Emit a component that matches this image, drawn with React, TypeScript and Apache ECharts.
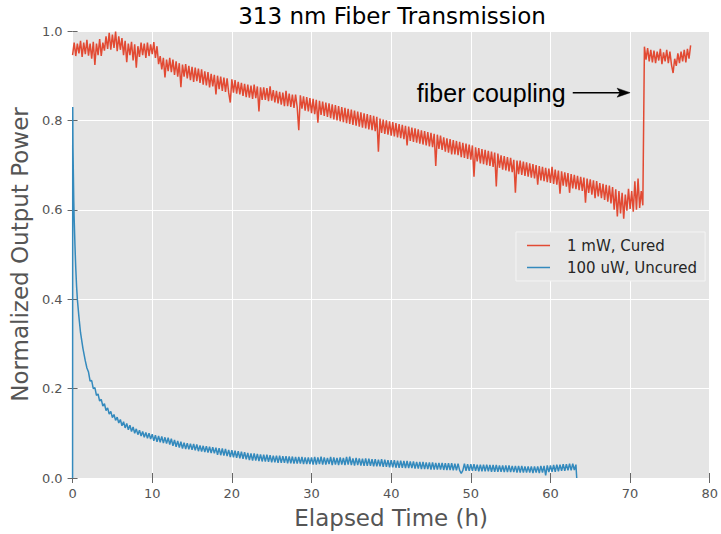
import React, { useEffect, useRef } from "react";
import * as echarts from "echarts";

// ---- Data ----
const titleText = "313 nm Fiber Transmission";
const xAxisTitle = "Elapsed Time (h)";
const yAxisTitle = "Normalized Output Power";
const seriesNames = ["1 mW, Cured", "100 uW, Uncured"];
const seriesColors = ["#E24A33", "#348ABD"];

const xMin = 0;
const xMax = 80;
const xInterval = 10;
const yMin = 0;
const yMax = 1;
const yInterval = 0.2;

// Red series (1 mW, Cured): samples every 0.2 h starting at 0 h
const redStartH = 0;
const redStepH = 0.2;
const redValues = [
  0.946, 0.974, 0.944, 0.972, 0.950, 0.978, 0.942, 0.974, 0.948, 0.980, 0.945, 0.972, 0.938, 0.976, 0.924, 0.972, 0.946, 0.982, 0.944, 0.974,
  0.956, 0.988, 0.960, 0.996, 0.958, 0.992, 0.962, 0.999, 0.955, 0.988, 0.958, 0.984, 0.946, 0.978, 0.930, 0.972, 0.946, 0.976, 0.934, 0.970,
  0.918, 0.966, 0.942, 0.974, 0.946, 0.972, 0.940, 0.974, 0.944, 0.970, 0.948, 0.975, 0.940, 0.966, 0.926, 0.944, 0.914, 0.940, 0.896, 0.936,
  0.910, 0.940, 0.908, 0.936, 0.902, 0.932, 0.898, 0.928, 0.874, 0.925, 0.898, 0.926, 0.894, 0.922, 0.890, 0.920, 0.886, 0.918, 0.888, 0.916,
  0.884, 0.914, 0.880, 0.910, 0.878, 0.908, 0.874, 0.904, 0.876, 0.902, 0.858, 0.900, 0.870, 0.898, 0.866, 0.896, 0.864, 0.894, 0.862, 0.840,
  0.892, 0.862, 0.890, 0.860, 0.886, 0.858, 0.884, 0.855, 0.882, 0.852, 0.880, 0.851, 0.878, 0.848, 0.880, 0.850, 0.876, 0.820, 0.874, 0.846,
  0.874, 0.846, 0.872, 0.843, 0.876, 0.844, 0.868, 0.840, 0.866, 0.838, 0.864, 0.835, 0.862, 0.832, 0.866, 0.832, 0.860, 0.830, 0.858, 0.828,
  0.858, 0.830, 0.778, 0.856, 0.826, 0.854, 0.822, 0.852, 0.820, 0.850, 0.816, 0.848, 0.814, 0.846, 0.795, 0.844, 0.812, 0.842, 0.810, 0.840,
  0.808, 0.838, 0.805, 0.836, 0.802, 0.834, 0.800, 0.832, 0.798, 0.830, 0.796, 0.828, 0.794, 0.826, 0.792, 0.824, 0.790, 0.822, 0.788, 0.820,
  0.786, 0.818, 0.784, 0.816, 0.782, 0.814, 0.780, 0.812, 0.778, 0.810, 0.776, 0.808, 0.730, 0.804, 0.772, 0.802, 0.770, 0.800, 0.768, 0.798,
  0.766, 0.796, 0.764, 0.794, 0.762, 0.792, 0.760, 0.790, 0.758, 0.788, 0.744, 0.786, 0.754, 0.784, 0.752, 0.782, 0.750, 0.780, 0.748, 0.778,
  0.746, 0.776, 0.744, 0.774, 0.742, 0.772, 0.740, 0.770, 0.698, 0.768, 0.736, 0.766, 0.734, 0.762, 0.730, 0.760, 0.728, 0.758, 0.724, 0.756,
  0.724, 0.754, 0.722, 0.752, 0.718, 0.750, 0.716, 0.748, 0.714, 0.746, 0.712, 0.744, 0.674, 0.740, 0.708, 0.738, 0.704, 0.736, 0.702, 0.734,
  0.700, 0.732, 0.698, 0.730, 0.696, 0.728, 0.652, 0.726, 0.694, 0.722, 0.690, 0.720, 0.688, 0.718, 0.686, 0.716, 0.684, 0.712, 0.638, 0.710,
  0.680, 0.710, 0.678, 0.708, 0.676, 0.706, 0.674, 0.704, 0.672, 0.702, 0.670, 0.700, 0.656, 0.698, 0.666, 0.696, 0.664, 0.694, 0.662, 0.692,
  0.660, 0.696, 0.658, 0.690, 0.656, 0.688, 0.636, 0.686, 0.654, 0.684, 0.652, 0.682, 0.638, 0.680, 0.648, 0.678, 0.646, 0.676, 0.644, 0.674,
  0.642, 0.672, 0.616, 0.670, 0.638, 0.668, 0.634, 0.666, 0.626, 0.664, 0.630, 0.660, 0.626, 0.658, 0.622, 0.656, 0.618, 0.654, 0.614, 0.651,
  0.600, 0.646, 0.585, 0.642, 0.592, 0.638, 0.580, 0.634, 0.598, 0.647, 0.602, 0.642, 0.596, 0.664, 0.600, 0.670, 0.604, 0.642, 0.610, 0.965,
  0.936, 0.962, 0.932, 0.958, 0.930, 0.956, 0.928, 0.954, 0.934, 0.960, 0.926, 0.952, 0.932, 0.958, 0.928, 0.954, 0.924, 0.906, 0.938, 0.922,
  0.950, 0.928, 0.954, 0.932, 0.958, 0.930, 0.960, 0.938, 0.968,
];

// Blue series (100 uW, Uncured): fast initial decay, then every 0.2 h from 2 h
const blueEarlyHours = [0, 0.02, 0.05, 0.1, 0.15, 0.2, 0.3, 0.4, 0.5, 0.6, 0.8, 1.0, 1.3, 1.6, 1.8];
const blueEarlyValues = [0, 0.83, 0.74, 0.68, 0.62, 0.58, 0.52, 0.47, 0.43, 0.40, 0.36, 0.325, 0.29, 0.262, 0.246];
const blueStartH = 2.0;
const blueStepH = 0.2;
const blueValues = [
  0.237, 0.217, 0.218, 0.200, 0.202, 0.185, 0.188, 0.172, 0.176, 0.161, 0.166, 0.151, 0.157, 0.143, 0.149, 0.135, 0.142, 0.129, 0.136, 0.123,
  0.131, 0.117, 0.126, 0.112, 0.122, 0.108, 0.118, 0.104, 0.114, 0.100, 0.110, 0.097, 0.107, 0.094, 0.104, 0.091, 0.102, 0.089, 0.100, 0.087,
  0.098, 0.083, 0.096, 0.081, 0.094, 0.080, 0.093, 0.078, 0.091, 0.077, 0.090, 0.075, 0.088, 0.072, 0.085, 0.070, 0.083, 0.068, 0.081, 0.066,
  0.079, 0.065, 0.078, 0.064, 0.077, 0.063, 0.076, 0.062, 0.075, 0.060, 0.073, 0.059, 0.072, 0.058, 0.071, 0.057, 0.070, 0.056, 0.069, 0.055,
  0.068, 0.052, 0.067, 0.051, 0.066, 0.050, 0.065, 0.049, 0.063, 0.047, 0.062, 0.046, 0.061, 0.045, 0.060, 0.044, 0.059, 0.043, 0.058, 0.042,
  0.056, 0.040, 0.055, 0.039, 0.055, 0.039, 0.054, 0.038, 0.053, 0.037, 0.052, 0.037, 0.052, 0.036, 0.051, 0.035, 0.050, 0.035, 0.050, 0.034,
  0.050, 0.034, 0.049, 0.034, 0.049, 0.033, 0.048, 0.033, 0.048, 0.032, 0.047, 0.032, 0.047, 0.032, 0.047, 0.031, 0.046, 0.031, 0.046, 0.031,
  0.046, 0.030, 0.047, 0.030, 0.046, 0.031, 0.048, 0.030, 0.046, 0.030, 0.045, 0.031, 0.047, 0.029, 0.046, 0.030, 0.045, 0.029, 0.046, 0.030,
  0.045, 0.029, 0.047, 0.030, 0.048, 0.029, 0.044, 0.028, 0.045, 0.029, 0.044, 0.028, 0.043, 0.027, 0.044, 0.027, 0.043, 0.027, 0.042, 0.026,
  0.042, 0.026, 0.041, 0.026, 0.042, 0.025, 0.041, 0.025, 0.040, 0.024, 0.040, 0.024, 0.040, 0.023, 0.039, 0.023, 0.039, 0.023, 0.038, 0.022,
  0.038, 0.022, 0.037, 0.022, 0.037, 0.021, 0.036, 0.021, 0.036, 0.020, 0.036, 0.020, 0.035, 0.020, 0.035, 0.019, 0.035, 0.019, 0.034, 0.019,
  0.034, 0.019, 0.034, 0.018, 0.033, 0.018, 0.033, 0.018, 0.033, 0.017, 0.032, 0.017, 0.032, 0.017, 0.010, 0.017, 0.032, 0.016, 0.031, 0.016,
  0.031, 0.016, 0.031, 0.016, 0.030, 0.015, 0.030, 0.015, 0.030, 0.015, 0.030, 0.015, 0.029, 0.014, 0.029, 0.014, 0.029, 0.014, 0.028, 0.014,
  0.028, 0.013, 0.028, 0.013, 0.028, 0.013, 0.027, 0.013, 0.027, 0.012, 0.027, 0.012, 0.027, 0.012, 0.026, 0.012, 0.026, 0.012, 0.026, 0.011,
  0.026, 0.012, 0.026, 0.011, 0.027, 0.012, 0.027, 0.006, 0.028, 0.013, 0.028, 0.014, 0.029, 0.014, 0.030, 0.015, 0.030, 0.016, 0.031, 0.016,
  0.031, 0.017, 0.032, 0.017, 0.032, 0.018, 0.030,
];
const blueTailHours = [63.3];
const blueTailValues = [0];

// Annotation
const annotationText = "fiber coupling";
const annotationLevel = 0.862;
const annotationTextEndH = 61.9;
const arrowTailH = 62.8;
const arrowTipH = 70.0;

const FONT = "DejaVu Sans, Noto Sans, sans-serif";

function round(v: number) {
  return Math.round(v * 1000) / 1000;
}

export default function App() {
  const ref = useRef<HTMLDivElement>(null);

  useEffect(() => {
    if (!ref.current) return;
    const chart = echarts.init(ref.current, undefined, { renderer: "svg" });

    const redData = redValues.map((v, i) => [round(redStartH + i * redStepH), v]);
    const blueData = [
      ...blueEarlyHours.map((h, i) => [h, blueEarlyValues[i]]),
      ...blueValues.map((v, i) => [round(blueStartH + i * blueStepH), v]),
      ...blueTailHours.map((h, i) => [h, blueTailValues[i]]),
    ];

    const tickStyle = { show: true, inside: false, length: 5, lineStyle: { color: "#666", width: 1 } };

    chart.setOption({
      animation: false,
      textStyle: { fontFamily: FONT },
      title: {
        text: titleText,
        left: 392,
        top: 4,
        textAlign: "center",
        padding: 0,
        textStyle: { fontSize: 23, fontWeight: "normal", color: "#000", fontFamily: FONT },
      },
      grid: {
        left: 71,
        right: 8,
        top: 31,
        bottom: 52,
        show: true,
        backgroundColor: "#E5E5E5",
        borderWidth: 0,
        containLabel: false,
      },
      legend: {
        orient: "vertical",
        left: 516,
        top: 232,
        padding: [6, 8, 6, 11],
        itemGap: 7,
        itemWidth: 23,
        itemHeight: 1.5,
        icon: "rect",
        backgroundColor: "#E5E5E5",
        borderColor: "#F4F4F4",
        borderWidth: 1,
        textStyle: { fontSize: 15, color: "#262626", fontFamily: FONT, padding: [0, 0, 0, 12] },
        data: seriesNames,
      },
      xAxis: [
        {
          type: "value",
          min: xMin,
          max: xMax,
          interval: xInterval,
          position: "bottom",
          axisLine: { show: false },
          axisTick: tickStyle,
          axisLabel: { color: "#555", fontSize: 13, margin: 9, fontFamily: FONT },
          splitLine: { show: true, lineStyle: { color: "#FFFFFF", width: 1 } },
          name: xAxisTitle,
          nameLocation: "middle",
          nameGap: 28,
          nameTextStyle: { fontSize: 23, color: "#555", fontFamily: FONT },
        },
        {
          type: "value",
          min: xMin,
          max: xMax,
          interval: xInterval,
          position: "top",
          axisLine: { show: false },
          axisTick: tickStyle,
          axisLabel: { show: false },
          splitLine: { show: false },
        },
      ],
      yAxis: [
        {
          type: "value",
          min: yMin,
          max: yMax,
          interval: yInterval,
          position: "left",
          axisLine: { show: false },
          axisTick: tickStyle,
          axisLabel: {
            color: "#555",
            fontSize: 13,
            margin: 10,
            fontFamily: FONT,
            formatter: (v: number) => v.toFixed(1),
          },
          splitLine: { show: true, lineStyle: { color: "#FFFFFF", width: 1 } },
          name: yAxisTitle,
          nameLocation: "middle",
          nameGap: 36,
          nameRotate: 90,
          nameTextStyle: { fontSize: 23, color: "#555", fontFamily: FONT },
        },
        {
          type: "value",
          min: yMin,
          max: yMax,
          interval: yInterval,
          position: "right",
          axisLine: { show: false },
          axisTick: tickStyle,
          axisLabel: { show: false },
          splitLine: { show: false },
        },
      ],
      series: [
        {
          name: seriesNames[0],
          type: "line",
          xAxisIndex: 0,
          yAxisIndex: 0,
          data: redData,
          showSymbol: false,
          symbol: "none",
          color: seriesColors[0],
          lineStyle: { color: seriesColors[0], width: 1.5 },
          z: 2,
        },
        {
          name: seriesNames[1],
          type: "line",
          xAxisIndex: 0,
          yAxisIndex: 0,
          data: blueData,
          showSymbol: false,
          symbol: "none",
          color: seriesColors[1],
          lineStyle: { color: seriesColors[1], width: 1.5 },
          z: 3,
        },
      ],
    });

    const tip = chart.convertToPixel({ xAxisIndex: 0, yAxisIndex: 0 }, [arrowTipH, annotationLevel]) as number[];
    const tail = chart.convertToPixel({ xAxisIndex: 0, yAxisIndex: 0 }, [arrowTailH, annotationLevel]) as number[];
    const textEnd = chart.convertToPixel({ xAxisIndex: 0, yAxisIndex: 0 }, [annotationTextEndH, annotationLevel]) as number[];
    const headLen = 13;
    const headHalf = 4.5;

    chart.setOption({
      graphic: [
        {
          type: "text",
          x: textEnd[0],
          y: textEnd[1],
          z: 10,
          style: {
            text: annotationText,
            fill: "#000",
            font: "25px 'Liberation Sans', Arial, sans-serif",
            align: "right",
            verticalAlign: "middle",
          },
        },
        {
          type: "line",
          z: 10,
          shape: { x1: tail[0], y1: tail[1], x2: tip[0] - headLen + 3, y2: tip[1] },
          style: { stroke: "#000", lineWidth: 1.5 },
        },
        {
          type: "polygon",
          z: 10,
          shape: {
            points: [
              [tip[0], tip[1]],
              [tip[0] - headLen, tip[1] - headHalf],
              [tip[0] - headLen + 3, tip[1]],
              [tip[0] - headLen, tip[1] + headHalf],
            ],
          },
          style: { fill: "#000", stroke: "#000", lineWidth: 0.5 },
        },
      ],
    });

    return () => chart.dispose();
  }, []);

  return (
    <div
      ref={ref}
      style={{ position: "fixed", left: 0, top: 0, width: 721, height: 534, background: "#fff" }}
    />
  );
}
